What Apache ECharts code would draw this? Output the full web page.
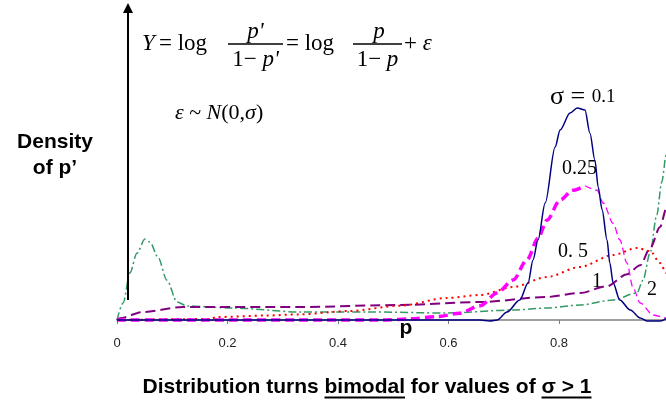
<!DOCTYPE html>
<html>
<head>
<meta charset="utf-8">
<script src="https://cdn.jsdelivr.net/npm/echarts@6/dist/echarts.min.js"></script>
<style>
html,body{margin:0;padding:0;background:#fff;}
#chart{width:666px;height:403px;}
</style>
</head>
<body>
<div id="chart"></div>
<script>
// ---- data (p, density) ----
var xTicks = [0, 0.2, 0.4, 0.6, 0.8, 1.0];

var sigma01P = [0, 0.5, 0.657, 0.675, 0.688, 0.706, 0.729, 0.744, 0.753, 0.762, 0.775, 0.793, 0.802, 0.82, 0.833, 0.847, 0.856, 0.865, 0.871, 0.878, 0.887, 0.892, 0.898, 0.91, 0.929, 0.947, 0.959, 0.983, 1.0];
var sigma01Y = [0, 0, 0, -0.13, 0, 1.07, 2.67, 4.93, 8.0, 10.67, 15.6, 23.07, 25.33, 27.6, 28.27, 28.0, 24.9, 21.3, 17.7, 14.7, 10.67, 7.6, 4.93, 2.67, 1.33, 0.27, -0.13, -0.13, 0.5];

var sigma025RiseP = [0, 0.48, 0.53, 0.58, 0.62, 0.657, 0.688, 0.717, 0.742, 0.762, 0.778, 0.802, 0.825, 0.847];
var sigma025RiseY = [0, 0, 0.15, 0.45, 0.9, 1.9, 3.6, 5.33, 8.0, 10.9, 13.3, 16.0, 17.3, 17.9];
var sigma025FallP = [0.847, 0.869, 0.88, 0.898, 0.91, 0.923, 0.934, 0.947, 0.97, 0.994, 1.0];
var sigma025FallY = [17.9, 17.3, 15.6, 12.9, 10.7, 7.6, 4.3, 2.27, 0.67, 0.27, 0.2];

var sigma05P = [0, 0.168, 0.181, 0.271, 0.331, 0.42, 0.512, 0.597, 0.657, 0.717, 0.778, 0.838, 0.898, 0.941, 0.965, 0.983, 0.994, 1.0];
var sigma05Y = [0, 0.13, 0.4, 0.6, 0.75, 1.2, 1.9, 2.93, 3.33, 4.4, 5.73, 7.07, 8.67, 9.6, 9.2, 7.6, 6.3, 5.6];

var sigma1P = [0, 0.005, 0.047, 0.119, 0.331, 0.512, 0.657, 0.778, 0.838, 0.887, 0.923, 0.947, 0.965, 0.983, 0.994, 1.0];
var sigma1Y = [0, 0.25, 1.07, 1.73, 1.73, 2.0, 2.4, 3.07, 3.6, 4.5, 6.1, 7.3, 9.6, 12.4, 14.8, 15.8];

var sigma2P = [0, 0.011, 0.0235, 0.036, 0.0507, 0.0597, 0.074, 0.0905, 0.1086, 0.127, 0.21, 0.331, 0.4525, 0.597, 0.717, 0.778, 0.838, 0.898, 0.941, 0.952, 0.965, 0.977, 0.986, 0.994, 1.0];
var sigma2Y = [0, 2.27, 6.3, 8.9, 10.8, 10.4, 8.4, 5.3, 2.4, 1.87, 1.6, 1.07, 1.07, 0.93, 1.33, 1.6, 2.0, 2.67, 3.6, 5.3, 9.0, 14.0, 18.4, 22.0, 24.0];

var curveLabels = ['0.25', '0. 5', '1', '2'];
var yTitle = ['Density', 'of p\u2019'];
var xName = 'p';
var captionParts = ['Distribution turns ', 'bimodal', ' for values of ', '\u03c3 > 1'];
var captionUnderline = [false, true, false, true];

function pairs(xs, ys) { return xs.map(function (x, i) { return [x, ys[i]]; }); }

var chart = echarts.init(document.getElementById('chart'), null, {renderer: 'canvas'});

var serif = '"Liberation Serif", "Times New Roman", serif';
var sans = '"Liberation Sans", Arial, sans-serif';

function lineSeries(data, color, width, type, z) {
  return {
    type: 'line', data: data, showSymbol: false, symbol: 'none',
    smooth: 0.3, smoothMonotone: 'x', silent: true, z: z || 2,
    lineStyle: {color: color, width: width, type: type},
    animation: false
  };
}

var series = [
  lineSeries(pairs(sigma2P, sigma2Y), '#339966', 1.5, [8, 3, 2, 3], 2),
  lineSeries(pairs(sigma1P, sigma1Y), '#800080', 2, [10, 5], 3),
  lineSeries(pairs(sigma05P, sigma05Y), '#FF0000', 2, [2, 4], 4),
  lineSeries(pairs(sigma025RiseP, sigma025RiseY), '#FF00FF', 3.5, [9, 5], 5),
  lineSeries(pairs(sigma025FallP, sigma025FallY), '#FF00FF', 1.3, [7, 4], 5),
  lineSeries(pairs(sigma01P, sigma01Y), '#000080', 1.5, 'solid', 6)
];
// vertical arrow (density axis)
series[5].markLine = {
  silent: true, animation: false,
  symbol: ['none', 'triangle'], symbolSize: 10,
  label: {show: false},
  emphasis: {disabled: true},
  lineStyle: {color: '#000', width: 2, type: 'solid'},
  itemStyle: {color: '#000'},
  data: [[{coord: [0.0199, 2.67]}, {coord: [0.0199, 41.6]}]]
};

// caption layout with measured text
var capFont = 'bold 21px ' + sans;
var mctx = document.createElement('canvas').getContext('2d');
mctx.font = 'bold 21px "Liberation Sans", Arial, sans-serif';
var widths = captionParts.map(function (s) { return mctx.measureText(s).width; });
var totalW = widths.reduce(function (a, b) { return a + b; }, 0);
var capCx = 367, capY = 387;
var cx = capCx - totalW / 2;
var captionEls = [];
captionParts.forEach(function (s, i) {
  captionEls.push({type: 'text', x: cx, y: capY, style: {text: s, font: capFont, fill: '#000', textAlign: 'left', verticalAlign: 'middle'}});
  if (captionUnderline[i]) {
    var lead = s.match(/^\s*/)[0];
    var trail = s.match(/\s*$/)[0];
    var x0 = cx + mctx.measureText(lead).width;
    var x1 = cx + widths[i] - mctx.measureText(trail).width;
    captionEls.push({type: 'line', shape: {x1: x0, y1: 397.5, x2: x1, y2: 397.5}, style: {stroke: '#000', lineWidth: 2}});
  }
  cx += widths[i];
});

var fF = '23px ' + serif;
var fI = 'italic 23px ' + serif;
function t(x, y, text, font, align) {
  return {type: 'text', x: x, y: y, style: {text: text, font: font, fill: '#000', textAlign: align || 'left', verticalAlign: 'middle'}};
}
function richT(x, y, text, rich, align) {
  return {type: 'text', x: x, y: y, style: {text: text, rich: rich, fill: '#000', textAlign: align || 'left', verticalAlign: 'middle'}};
}
var formulaRich = {
  i: {font: fI, fill: '#000'},
  r: {font: fF, fill: '#000'}
};

var graphics = [
  // formula line 1
  t(142, 44, 'Y', fI),
  t(159, 44, '= log', fF),
  t(255.5, 32, "p'", fI, 'center'),
  {type: 'line', shape: {x1: 228, y1: 44, x2: 283, y2: 44}, style: {stroke: '#000', lineWidth: 1.3}},
  richT(255.5, 60, "{r|1\u2212 }{i|p'}", formulaRich, 'center'),
  t(286, 44, '= log', fF),
  t(379, 32, 'p', fI, 'center'),
  {type: 'line', shape: {x1: 353, y1: 44, x2: 402, y2: 44}, style: {stroke: '#000', lineWidth: 1.3}},
  richT(377.5, 60, '{r|1\u2212 }{i|p}', formulaRich, 'center'),
  richT(404, 44, '{r|+ }{i|\u03b5}', formulaRich),
  // epsilon line
  richT(175, 113, '{i|\u03b5}{r| ~ }{i|N}{r|(0,}{i|\u03c3}{r|)}', {
    i: {font: 'italic 22px ' + serif, fill: '#000'},
    r: {font: '22px ' + serif, fill: '#000'}
  }),
  // curve labels
  richT(550, 97, '{a|\u03c3 = }{b|0.1}', {
    a: {font: '26px ' + serif, fill: '#000'},
    b: {font: '19px ' + serif, fill: '#000'}
  }),
  t(562, 169, curveLabels[0], '20px ' + serif),
  t(558, 252, curveLabels[1], '20px ' + serif),
  t(592, 282, curveLabels[2], '20px ' + serif),
  t(647, 290, curveLabels[3], '20px ' + serif),
  // y title
  t(55, 142, yTitle[0], 'bold 21px ' + sans, 'center'),
  t(55, 168, yTitle[1], 'bold 21px ' + sans, 'center'),
  // x name
  t(406, 328, xName, 'bold 21px ' + sans, 'center')
].concat(captionEls);

chart.setOption({
  animation: false,
  backgroundColor: '#fff',
  grid: {left: 117, right: -3.5, top: 8, bottom: 75.5, containLabel: false, outerBoundsMode: 'none'},
  xAxis: {
    type: 'value', min: xTicks[0], max: xTicks[xTicks.length - 1], interval: 0.2,
    axisLine: {show: true, onZero: true, lineStyle: {color: '#7f7f7f', width: 1.5}},
    axisTick: {show: true, length: 4, lineStyle: {color: '#7f7f7f'}},
    splitLine: {show: false},
    axisLabel: {
      color: '#222', fontSize: 13, fontFamily: sans, margin: 9,
      formatter: function (v) { return v >= 1 ? '' : String(+v.toFixed(1)); }
    }
  },
  yAxis: {type: 'value', min: -1, max: 41.6, show: false, splitLine: {show: false}},
  series: series,
  graphic: graphics
});
</script>
</body>
</html>
